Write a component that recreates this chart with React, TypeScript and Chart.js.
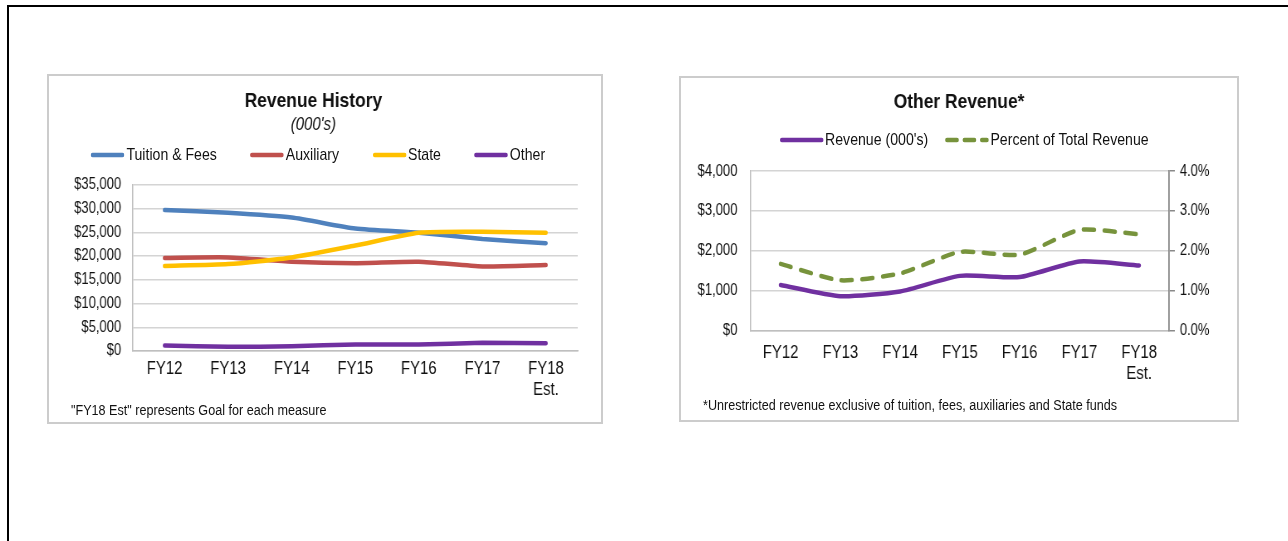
import React, { useEffect, useRef } from "react";
import { Chart, registerables } from "chart.js";

Chart.register(...registerables);

// ---------- data ----------
const fiscalYears: string[][] = [["FY12"], ["FY13"], ["FY14"], ["FY15"], ["FY16"], ["FY17"], ["FY18", "Est."]];
const historySeriesNames = ["Tuition & Fees", "Auxiliary", "State", "Other"];
const tuitionFees = [29700, 29100, 28100, 25800, 24900, 23600, 22700];
const auxiliary = [19600, 19700, 18800, 18500, 18800, 17800, 18100];
const stateFunds = [17900, 18300, 19700, 22200, 24900, 25100, 24900];
const otherRevenue = [1150, 870, 990, 1380, 1350, 1740, 1640];
const otherSeriesNames = ["Revenue (000's)", "Percent of Total Revenue"];
const percentOfTotal = [1.68, 1.27, 1.44, 1.98, 1.91, 2.53, 2.42];

const historyTitle = "Revenue History";
const historySubtitle = "(000's)";
const historyNote = "\"FY18 Est\" represents Goal for each measure";
const otherTitle = "Other Revenue*";
const otherNote = "*Unrestricted revenue exclusive of tuition, fees, auxiliaries and State funds";

// ---------- styles ----------
const FONT = '"Liberation Sans", Arial, Helvetica, sans-serif';
const SX = 0.83; // horizontal condensing of the panel contents (narrow type look)
const TEXT = "#111111";
const BLUE = "#4F81BD";
const RED = "#C0504D";
const GOLD = "#FFC000";
const PURPLE = "#7030A0";
const OLIVE = "#77933C";
const GRID = "#d4d4d4";
const AXIS = "#bfbfbf";
const LINE_W = 4.5;
const GREEN_DASH = [13, 12];
const GREEN_LEGEND_DASH = [12, 9];

const money = (v: number | string) => "$" + Number(v).toLocaleString("en-US");

type LegendItem = { label: string; color: string; dash?: number[] };

function Legend(props: { items: LegendItem[]; swatch: number; gap: number; style: React.CSSProperties }) {
  const { items, swatch, gap, style } = props;
  return (
    <div
      style={{
        position: "absolute",
        display: "flex",
        alignItems: "center",
        justifyContent: "center",
        fontFamily: FONT,
        fontSize: 17,
        lineHeight: "20px",
        color: TEXT,
        whiteSpace: "nowrap",
        ...style,
      }}
    >
      {items.map((it, i) => (
        <div key={i} style={{ display: "flex", alignItems: "center", marginLeft: i ? gap : 0 }}>
          <svg width={swatch} height={10} style={{ display: "block" }}>
            <line
              x1={2.5}
              y1={5}
              x2={swatch - 2.5}
              y2={5}
              stroke={it.color}
              strokeWidth={LINE_W}
              strokeLinecap="round"
              strokeDasharray={it.dash ? it.dash.join(" ") : undefined}
            />
          </svg>
          <span style={{ marginLeft: 2 }}>{it.label}</span>
        </div>
      ))}
    </div>
  );
}

const lineDataset = (label: string, data: number[], color: string, extra: any = {}) => ({
  label,
  data,
  borderColor: color,
  backgroundColor: color,
  borderWidth: LINE_W,
  pointRadius: 0,
  pointHoverRadius: 0,
  tension: 0.2,
  borderCapStyle: "round",
  borderJoinStyle: "round",
  fill: false,
  ...extra,
});

const LEFT_W = Math.round(552 / SX);
const RIGHT_W = Math.round(556 / SX);

export default function App() {
  const leftRef = useRef<HTMLCanvasElement | null>(null);
  const rightRef = useRef<HTMLCanvasElement | null>(null);

  useEffect(() => {
    Chart.defaults.font.family = FONT;
    Chart.defaults.color = TEXT;

    const left = new Chart(leftRef.current as HTMLCanvasElement, {
      type: "line",
      data: {
        labels: fiscalYears,
        datasets: [
          lineDataset(historySeriesNames[0], tuitionFees, BLUE, { order: 3 }),
          lineDataset(historySeriesNames[1], auxiliary, RED, { order: 2 }),
          lineDataset(historySeriesNames[2], stateFunds, GOLD, { order: 1 }),
          lineDataset(historySeriesNames[3], otherRevenue, PURPLE, { order: 0 }),
        ] as any,
      },
      options: {
        responsive: false,
        animation: false,
        layout: { padding: { left: 0, right: 28, top: 0, bottom: 21 } },
        plugins: {
          legend: { display: false },
          tooltip: { enabled: false },
          title: {
            display: true,
            text: historyTitle,
            color: TEXT,
            font: { size: 21, weight: "bold", family: FONT, lineHeight: 1.2 },
            padding: { top: 13, bottom: 0 },
          },
          subtitle: {
            display: true,
            text: historySubtitle,
            color: TEXT,
            font: { size: 18, style: "italic", family: FONT, lineHeight: 1.2 },
            padding: { top: 0, bottom: 49 },
          },
        },
        scales: {
          x: {
            offset: true,
            grid: { display: false, drawTicks: false },
            border: { display: true, color: AXIS, width: 1.5 },
            ticks: { color: TEXT, font: { size: 18, family: FONT, lineHeight: 1.2 }, padding: 7, maxRotation: 0, autoSkip: false },
            afterFit: (s: any) => { s.height = 50; },
          },
          y: {
            min: 0,
            max: 35000,
            grid: { color: GRID, lineWidth: 1.5, drawTicks: false },
            border: { display: true, color: AXIS, width: 1.5 },
            ticks: { stepSize: 5000, color: TEXT, font: { size: 15.7, family: FONT }, padding: 14, callback: (v: any) => money(v) },
            afterFit: (s: any) => { s.width = 101; },
          },
        },
      } as any,
    });

    const right = new Chart(rightRef.current as HTMLCanvasElement, {
      type: "line",
      data: {
        labels: fiscalYears,
        datasets: [
          lineDataset(otherSeriesNames[0], otherRevenue, PURPLE, { yAxisID: "y" }),
          lineDataset(otherSeriesNames[1], percentOfTotal, OLIVE, { yAxisID: "y1", borderDash: GREEN_DASH }),
        ] as any,
      },
      options: {
        responsive: false,
        animation: false,
        layout: { padding: { left: 0, right: 0, top: 0, bottom: 31 } },
        plugins: {
          legend: { display: false },
          tooltip: { enabled: false },
          title: {
            display: true,
            text: otherTitle,
            color: TEXT,
            font: { size: 21, weight: "bold", family: FONT, lineHeight: 1.2 },
            padding: { top: 12, bottom: 56 },
          },
        },
        scales: {
          x: {
            offset: true,
            grid: { display: false, drawTicks: false },
            border: { display: true, color: AXIS, width: 1.5 },
            ticks: { color: TEXT, font: { size: 18, family: FONT, lineHeight: 1.2 }, padding: 11, maxRotation: 0, autoSkip: false },
            afterFit: (s: any) => { s.height = 58; },
          },
          y: {
            position: "left",
            min: 0,
            max: 4000,
            grid: { color: GRID, lineWidth: 1.5, drawTicks: false },
            border: { display: true, color: AXIS, width: 1.5 },
            ticks: { stepSize: 1000, color: TEXT, font: { size: 15.7, family: FONT }, padding: 16, callback: (v: any) => money(v) },
            afterFit: (s: any) => { s.width = 84; },
          },
          y1: {
            position: "right",
            min: 0,
            max: 4,
            grid: { drawOnChartArea: false, drawTicks: true, tickLength: 7, color: "#898989", lineWidth: 1.5 },
            border: { display: true, color: "#898989", width: 1.8 },
            ticks: { stepSize: 1, color: TEXT, font: { size: 15.7, family: FONT }, padding: 6, callback: (v: any) => Number(v).toFixed(1) + "%" },
            afterFit: (s: any) => { s.width = 82; },
          },
        },
      } as any,
    });

    return () => {
      left.destroy();
      right.destroy();
    };
  }, []);

  const historyLegend: LegendItem[] = [
    { label: historySeriesNames[0], color: BLUE },
    { label: historySeriesNames[1], color: RED },
    { label: historySeriesNames[2], color: GOLD },
    { label: historySeriesNames[3], color: PURPLE },
  ];
  const otherLegend: LegendItem[] = [
    { label: otherSeriesNames[0], color: PURPLE },
    { label: otherSeriesNames[1], color: OLIVE, dash: GREEN_LEGEND_DASH },
  ];

  const panel: React.CSSProperties = {
    position: "absolute",
    boxSizing: "border-box",
    border: "2px solid #cccccc",
    background: "#ffffff",
  };
  const inner = (w: number, h: number): React.CSSProperties => ({
    position: "absolute",
    left: 0,
    top: 0,
    width: w,
    height: h,
    transform: `scaleX(${SX})`,
    transformOrigin: "0 0",
  });
  const note: React.CSSProperties = {
    position: "absolute",
    fontFamily: FONT,
    fontSize: 15.2,
    lineHeight: "18px",
    color: TEXT,
    whiteSpace: "nowrap",
  };

  return (
    <div style={{ position: "fixed", left: 0, top: 0, width: 1288, height: 541, background: "#fff", overflow: "hidden" }}>
      {/* outer frame */}
      <div style={{ position: "absolute", left: 7, top: 5, width: 1300, height: 600, borderTop: "2px solid #000", borderLeft: "2px solid #000" }} />

      {/* left panel */}
      <div style={{ ...panel, left: 47, top: 74, width: 556, height: 350 }}>
        <div style={inner(LEFT_W, 346)}>
          <canvas ref={leftRef} width={LEFT_W} height={346} style={{ position: "absolute", left: 0, top: 0 }} />
          <Legend items={historyLegend} swatch={41} gap={40} style={{ left: 0, width: 648, top: 69, height: 20 }} />
          <div style={{ ...note, left: 26.5, top: 325 }}>{historyNote}</div>
        </div>
      </div>

      {/* right panel */}
      <div style={{ ...panel, left: 679, top: 76, width: 560, height: 346 }}>
        <div style={inner(RIGHT_W, 342)}>
          <canvas ref={rightRef} width={RIGHT_W} height={342} style={{ position: "absolute", left: 0, top: 0 }} />
          <Legend items={otherLegend} swatch={53} gap={20} style={{ left: 0, width: 682, top: 52, height: 20 }} />
          <div style={{ ...note, left: 26.5, top: 318 }}>{otherNote}</div>
        </div>
      </div>
    </div>
  );
}
